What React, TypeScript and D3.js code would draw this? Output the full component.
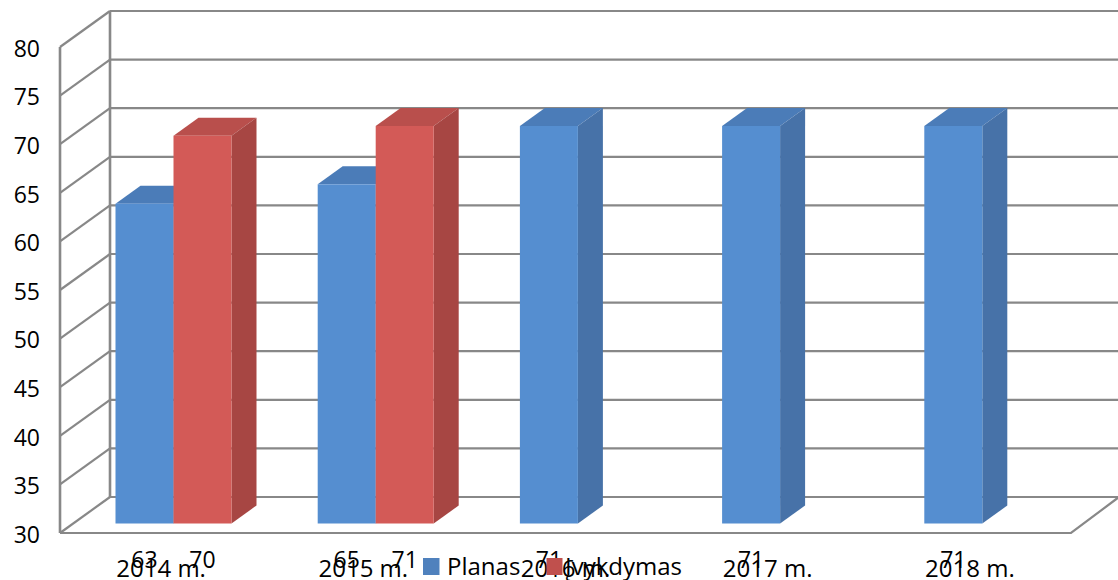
import { scaleBand, scaleLinear, range } from "d3";

const categories = ["2014 m.", "2015 m.", "2016 m.", "2017 m.", "2018 m."];
const planas = [63, 65, 71, 71, 71];
const ivykdymas: (number | null)[] = [70, 71, null, null, null];
const ticks = [30, 35, 40, 45, 50, 55, 60, 65, 70, 75, 80];
const legendNames = ["Planas", "Įvykdymas"];

const W = 1118, H = 580;
const X0 = 60, X1 = 1071, FLOOR = 533, TOP = 47;
const DX = 48, DY = -36; // full depth of the 3d box
const BDX = 25, BDY = -18; // depth of a bar
const GRID = "#888888";
const FONT = "'Open Sans', sans-serif";
const COLORS = {
  blue: { front: "#558ed0", top: "#4b7cb8", side: "#4772a8" },
  red: { front: "#d35a57", top: "#b94f4c", side: "#a74643" },
};

const scaleX = scaleBand<string>().domain(categories).range([X0, X1]);
const scaleY = scaleLinear().domain([30, 80]).range([FLOOR, TOP]);
const BAR_W = 58;
const BAR_OFFSET = 55.5;

function Bar({ x, v, c }: { x: number; v: number; c: { front: string; top: string; side: string } }) {
  const y = scaleY(v) - 8.5, b = FLOOR - 9.5, r = x + BAR_W;
  return (
    <g>
      <path d={`M${x},${y}L${x + BDX},${y + BDY}L${r + BDX},${y + BDY}L${r},${y}Z`} fill={c.top} />
      <path d={`M${r},${y}L${r + BDX},${y + BDY}L${r + BDX},${b + BDY}L${r},${b}Z`} fill={c.side} />
      <rect x={x} y={y} width={BAR_W} height={b - y} fill={c.front} />
    </g>
  );
}

export default function App() {
  const labelProps = { fontFamily: FONT, fontSize: 24, fill: "#000" };
  return (
    <svg width={W} height={H} viewBox={`0 0 ${W} ${H}`} style={{ position: "absolute", left: 0, top: 0, background: "#fff" }}>
      {/* back wall and side wall */}
      {ticks.map(t => (
        <g key={t} stroke={GRID} strokeWidth={2.2} fill="none">
          <line x1={X0 + 50} x2={W} y1={scaleY(t) + DY} y2={scaleY(t) + DY} />
          <line x1={X0} x2={X0 + 50} y1={scaleY(t)} y2={scaleY(t) + DY} />
        </g>
      ))}
      <line x1={X0 + 50} x2={X0 + 50} y1={scaleY(80) + DY} y2={FLOOR + DY} stroke={GRID} strokeWidth={2.6} />
      <line x1={X0} x2={X0} y1={TOP} y2={FLOOR} stroke={GRID} strokeWidth={2.6} />
      <path d={`M${X0},${FLOOR}L${X1},${FLOOR}L${X1 + DX},${FLOOR + DY}`} stroke={GRID} strokeWidth={2.2} fill="none" />

      {/* bars, blue first so the red one covers its top */}
      {range(categories.length).map(i => {
        const x = (scaleX(categories[i]) ?? 0) + BAR_OFFSET;
        const r = ivykdymas[i];
        return (
          <g key={i}>
            <Bar x={x} v={planas[i]} c={COLORS.blue} />
            {r !== null && <Bar x={x + BAR_W} v={r} c={COLORS.red} />}
          </g>
        );
      })}

      {/* y axis */}
      {ticks.map(t => (
        <text key={t} x={40} y={scaleY(t) + 9.7} textAnchor="end" {...labelProps} fontSize={23}>{t}</text>
      ))}

      {/* data labels */}
      {range(categories.length).map(i => {
        const x = (scaleX(categories[i]) ?? 0) + BAR_OFFSET;
        const r = ivykdymas[i];
        return (
          <g key={i} textAnchor="middle" {...labelProps} fontSize={23}>
            <text x={x + BAR_W / 2} y={567.5}>{planas[i]}</text>
            {r !== null && <text x={x + BAR_W * 1.5} y={567.5}>{r}</text>}
          </g>
        );
      })}

      {/* category labels */}
      {categories.map(c => (
        <text key={c} x={(scaleX(c) ?? 0) + scaleX.bandwidth() / 2} y={576.7} textAnchor="middle" {...labelProps}>{c}</text>
      ))}

      {/* legend */}
      <rect x={423} y={558} width={16.5} height={17} fill="#4f81bd" />
      <text x={447} y={575} {...labelProps}>{legendNames[0]}</text>
      <rect x={546.5} y={558} width={16} height={17} fill="#c0504d" />
      <text x={682} y={575} textAnchor="end" {...labelProps}>{legendNames[1]}</text>
    </svg>
  );
}
